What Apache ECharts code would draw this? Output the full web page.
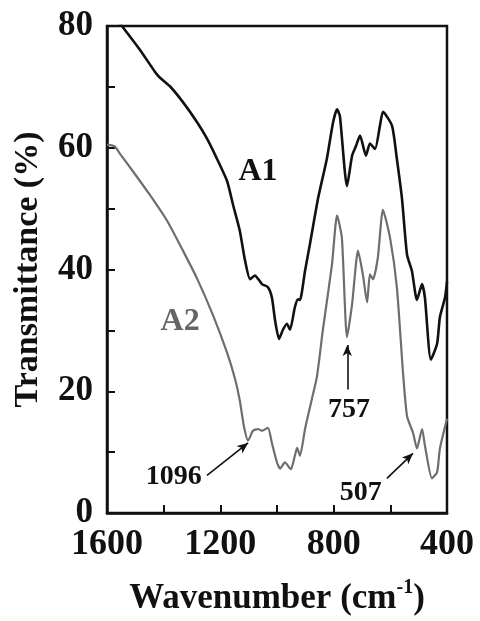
<!DOCTYPE html>
<html>
<head>
<meta charset="utf-8">
<script src="https://cdn.jsdelivr.net/npm/echarts@6/dist/echarts.min.js"></script>
<style>
html,body{margin:0;padding:0;background:#fff;}
#chart{width:480px;height:621px;}
</style>
</head>
<body>
<div id="chart"></div>
<script>
// Wavenumber (cm-1) and transmittance (%) for the two spectra
var a1Wavenumber = [1600,1544,1484,1431,1413,1378,1332,1282,1247,1212,1176,1155,1131,1113,1095,1078,1053,1032,1018,1007,993,979,965,954,937,926,919,901,884,855,824,802,788,778,753,735,722,707,686,672,654,636,626,594,577,559,541,524,506,488,478,457,435,425,407,400];
var a1Transmit   = [83.3,79.8,76.1,72.5,71.5,70.1,67.5,64.2,61.5,58.2,54.5,50.6,46.3,41.5,38.4,39.0,37.6,37.1,35.4,31.7,28.6,30.1,31.1,30.1,33.8,35.1,35.0,39.8,44.1,51.7,58.2,64.2,66.3,65.2,53.7,58.7,60.2,62.0,58.7,60.7,59.8,63.8,65.9,63.6,58.2,51.7,42.4,39.8,35.0,37.6,35.4,25.2,27.8,32.2,35.4,38.0];

var a2Wavenumber = [1600,1572,1554,1508,1448,1388,1332,1282,1226,1176,1148,1131,1117,1102,1085,1067,1053,1032,1018,1000,989,972,951,937,929,919,901,877,859,838,806,788,771,753,735,714,697,682,672,661,644,626,601,577,555,541,520,506,488,478,453,435,425,400];
var a2Transmit   = [60.5,60.2,59.0,56.1,52.2,48.0,43.1,38.5,32.5,26.3,22.0,18.4,14.3,11.9,13.5,13.8,13.5,14.0,11.5,8.3,7.3,8.3,7.2,9.4,10.7,9.4,13.8,18.7,22.4,30.1,40.8,48.9,45.2,28.9,34.3,43.1,39.2,34.6,39.2,38.4,42.0,49.8,45.2,37.1,22.9,15.9,13.2,10.6,13.8,11.1,5.7,6.7,10.6,15.5];

// Axis ticks
var xTicks = [1600, 1200, 800, 400];
var yTicks = [0, 20, 40, 60, 80];

// Annotation texts and where they sit (data coordinates)
var seriesNames = ['A1', 'A2'];
var peakLabels = ['1096', '757', '507'];
var labelCoords = [[1067, 56.1], [1342, 31.4], [1364, 5.9], [746, 16.9], [704, 3.4]];
var arrowTails = [[1247, 6.2], [752, 20.3], [612, 5.7]];
var arrowHeads = [[1102, 11.5], [752, 27.6], [520, 9.8]];

function pairs(xs, ys) {
  var out = [];
  for (var i = 0; i < xs.length; i++) out.push([xs[i], ys[i]]);
  return out;
}

var FONT = "'Liberation Serif','Times New Roman',serif";
var chart = echarts.init(document.getElementById('chart'), null, {renderer: 'canvas'});

var arrowData = [];
for (var i = 0; i < arrowTails.length; i++) {
  arrowData.push([{coord: arrowTails[i]}, {coord: arrowHeads[i]}]);
}
var textItems = [];
var allTexts = seriesNames.concat(peakLabels);
for (var j = 0; j < allTexts.length; j++) {
  var isSeries = j < 2;
  textItems.push({
    coord: labelCoords[j],
    value: allTexts[j],
    label: {
      show: true,
      position: 'inside',
      formatter: allTexts[j],
      fontFamily: FONT,
      fontWeight: 'bold',
      fontSize: isSeries ? 32 : 28,
      color: j === 1 ? '#666666' : '#111111'
    }
  });
}

var option = {
  animation: false,
  backgroundColor: '#ffffff',
  grid: {left: 107, right: 33, top: 26, bottom: 103, show: true, borderColor: '#111', borderWidth: 2.5, backgroundColor: 'transparent'},
  xAxis: {
    type: 'value', inverse: true, min: 400, max: 1600, interval: 400,
    axisLine: {show: true, lineStyle: {color: '#111', width: 2.5}},
    axisTick: {show: true, inside: true, length: 8, lineStyle: {color: '#111', width: 2}},
    minorTick: {show: true, splitNumber: 2, length: 8, lineStyle: {color: '#111', width: 2}},
    splitLine: {show: false},
    axisLabel: {
      margin: 14, fontFamily: FONT, fontWeight: 'bold', fontSize: 36, color: '#111',
      formatter: function (v) { return xTicks.indexOf(v) >= 0 ? String(v) : ''; }
    },
    name: '{t|Wavenumber (cm}{s|-1}{t|)}',
    nameLocation: 'middle', nameGap: 65,
    nameTextStyle: {
      rich: {
        t: {fontFamily: FONT, fontWeight: 'bold', fontSize: 35, color: '#111', verticalAlign: 'bottom'},
        s: {fontFamily: FONT, fontWeight: 'bold', fontSize: 20, color: '#111', verticalAlign: 'top', padding: [0, 0, 18, 0]}
      }
    }
  },
  yAxis: {
    type: 'value', min: 0, max: 80, interval: 20,
    axisLine: {show: true, lineStyle: {color: '#111', width: 2.5}},
    axisTick: {show: true, inside: true, length: 8, lineStyle: {color: '#111', width: 2}},
    minorTick: {show: true, splitNumber: 2, length: 8, lineStyle: {color: '#111', width: 2}},
    splitLine: {show: false},
    axisLabel: {
      margin: 14, fontFamily: FONT, fontWeight: 'bold', fontSize: 35, color: '#111',
      formatter: function (v) { return yTicks.indexOf(v) >= 0 ? String(v) : ''; }
    },
    name: 'Transmittance (%)',
    nameLocation: 'middle', nameGap: 62, nameRotate: 90,
    nameTextStyle: {fontFamily: FONT, fontWeight: 'bold', fontSize: 34, color: '#111'}
  },
  series: [
    {
      name: seriesNames[0], type: 'line', data: pairs(a1Wavenumber, a1Transmit),
      showSymbol: false, symbol: 'none', smooth: 0.2, clip: true,
      lineStyle: {color: '#111', width: 2.6}, z: 3
    },
    {
      name: seriesNames[1], type: 'line', data: pairs(a2Wavenumber, a2Transmit),
      showSymbol: false, symbol: 'none', smooth: 0.2, clip: true,
      lineStyle: {color: '#6e6e6e', width: 2.2}, z: 2,
      markLine: {
        silent: true, animation: false,
        symbol: ['none', 'arrow'], symbolSize: [7, 11],
        lineStyle: {color: '#111', width: 1.6, type: 'solid'},
        label: {show: false},
        data: arrowData
      },
      markPoint: {
        silent: true, animation: false,
        symbol: 'circle', symbolSize: 1,
        itemStyle: {color: 'rgba(0,0,0,0)'},
        data: textItems
      }
    }
  ]
};
chart.setOption(option);
</script>
</body>
</html>
